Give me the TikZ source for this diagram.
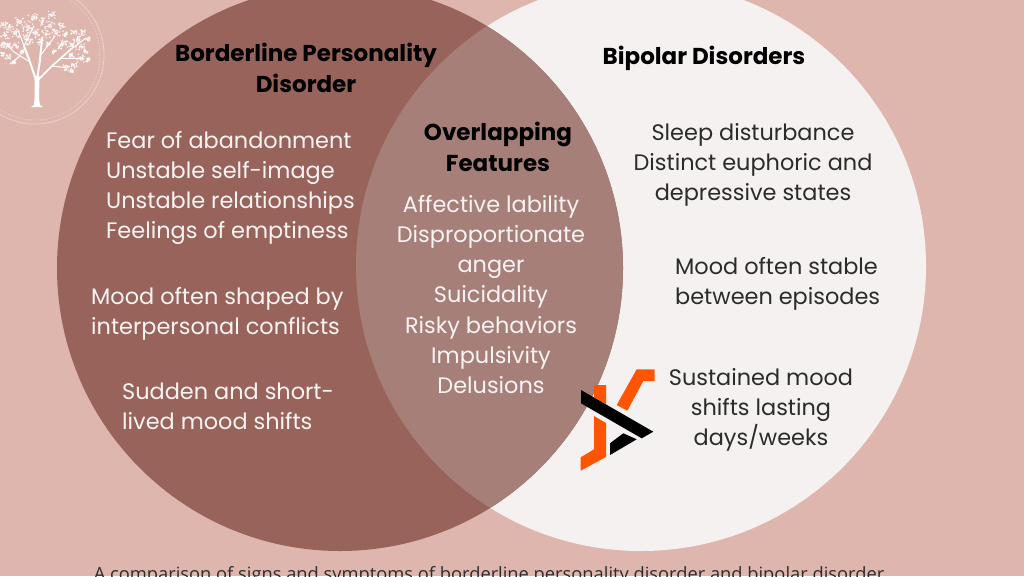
\documentclass[tikz,border=0pt]{standalone}
\usepackage{fontspec}
\setmainfont{Poppins}
\newfontfamily\capfont{Open Sans}
\definecolor{bgc}{HTML}{DFB6AE}
\definecolor{leftc}{HTML}{98635B}
\definecolor{rightc}{HTML}{F5F1F0}
\definecolor{midc}{HTML}{A67F79}
\definecolor{ringc}{HTML}{EBD0CB}
\definecolor{orangec}{HTML}{FF5500}
\definecolor{inkc}{HTML}{2B2B2B}
\tikzset{
  head/.style={font=\fontsize{23}{31}\selectfont\bfseries,align=center,text=black,inner sep=0pt},
  ltext/.style={font=\fontsize{22.4}{30.2}\selectfont,align=left,text=white!93!leftc,inner sep=0pt,anchor=north west},
  mtext/.style={font=\fontsize{22.4}{30.2}\selectfont,align=center,text=white!93!leftc,inner sep=0pt,anchor=north},
  rtext/.style={font=\fontsize{22.4}{30.2}\selectfont,align=left,text=inkc,inner sep=0pt,anchor=north west},
  rctext/.style={font=\fontsize{22.4}{30.2}\selectfont,align=center,text=inkc,inner sep=0pt,anchor=north},
  branch/.style={draw=white,line cap=round,line join=round},
}
\begin{document}
\begin{tikzpicture}[x=1pt,y=-1pt]
\useasboundingbox (0,0) rectangle (1024,576);
\begin{scope}
\clip (0,0) rectangle (1024,576);
\fill[bgc] (0,0) rectangle (1024,576);
% rings and tree
\draw[ringc,line width=0.8pt] (35,55) circle[radius=69];
\draw[ringc,line width=1pt,dash pattern=on 1pt off 2pt] (35,55) circle[radius=65];
\fill[white] (34.5,76) -- (39.5,76) -- (39,98) -- (40,105) -- (43,107) -- (31,107) -- (34,105) -- (34.5,98) -- cycle;
\draw[branch,line width=2pt] (36,80) -- (30,62) -- (24,46);
\draw[branch,line width=2pt] (37,80) -- (40,60) -- (42,38);
\draw[branch,line width=1.6pt] (38,80) -- (52,66) -- (70,50);
\draw[branch,line width=1pt] (30,62) -- (14,52) -- (4,42);
\draw[branch,line width=1pt] (24,46) -- (18,30);
\draw[branch,line width=1pt] (24,46) -- (34,26);
\draw[branch,line width=1pt] (40,56) -- (55,36);
\draw[branch,line width=1pt] (52,66) -- (68,68);
\draw[branch,line width=1pt] (60,58) -- (84,58);
\draw[branch,line width=1pt] (70,50) -- (86,38);
\draw[branch,line width=1pt] (20,56) -- (10,64);
\pgfmathsetseed{4711}
\foreach \p/\q/\r in {52/15/3.5,33/18/5,20/22/5,10/27/4,3/25/3,42/22/4,62/26/3,50/26/5,28/27/5,15/33/5,5/35/4,2/45/3,9/45/4,16/45/3,26/36/4,36/33/5,46/34/4,56/33/4,66/34/3,74/32/3,82/33/3,88/39/2,78/40/5,72/45/5,82/47/3,64/42/3,86/52/2,88/60/2,80/58/4,72/56/3,74/65/3,66/68/3,72/71/2,3/54/2,8/57/3,14/62/2,54/52/2,60/46/3,30/42/3,40/42/3,22/52/2,48/44/2}{
  \foreach \k in {1,...,14}{
    \pgfmathsetmacro{\dx}{\p+\r*rand}
    \pgfmathsetmacro{\dy}{\q+\r*rand}
    \fill[white,opacity=.8] (\dx,\dy) circle[radius=0.9];
  }
  \fill[white,opacity=.7] (\p,\q) circle[radius=\r*0.45];
}
% circles
\fill[rightc] (641,266) circle[radius=285];
\fill[leftc] (340,268) circle[radius=283];
\begin{scope}
\clip (641,266) circle[radius=285];
\fill[midc] (340,268) circle[radius=283];
\end{scope}
% logo
\fill[orangec] (636.7,369.3) -- (654.7,369.3) -- (654.7,381) -- (643.3,381) -- (627.3,410.7) -- (616.7,405) -- cycle;
\fill[orangec] (594,385) -- (606,385) -- (606,404.3) -- (594,397.3) -- cycle;
\fill[orangec] (594,416) -- (606,423) -- (606,457) -- (580.7,470.7) -- (580.7,457.3) -- (594,449.3) -- cycle;
\fill[black] (581,390) -- (653.3,431.7) -- (641.7,438.3) -- (581,403.3) -- cycle;
\fill[black] (610,443.3) -- (623.3,433.3) -- (636.7,439.3) -- (610,455) -- cycle;
\end{scope}
% headings
\node[head] (h1) at (306,68) {Borderline Personality\\Disorder};
\node[head] (h2) at (704,58) {Bipolar Disorders};
\node[head] (h3) at (498,147) {Overlapping\\Features};
% left
\node[ltext] (l1) at (106,131) {Fear of abandonment\\Unstable self-image\\Unstable relationships\\Feelings of emptiness};
\node[ltext] (l2) at (91,287) {Mood often shaped by\\interpersonal conflicts};
\node[ltext] (l3) at (122,383) {Sudden and short-\\lived mood shifts};
% middle
\node[mtext] (m1) at (491,195) {Affective lability\\Disproportionate\\anger\\Suicidality\\Risky behaviors\\Impulsivity\\Delusions};
% right
\node[rctext] (r1) at (753,123) {Sleep disturbance\\Distinct euphoric and\\depressive states};
\node[rtext] (r2) at (675,257) {Mood often stable\\between episodes};
\node[rctext] (r3) at (761,368) {Sustained mood\\shifts lasting\\days/weeks};
% caption
\begin{scope}
\clip (0,0) rectangle (1024,576);
\node[font=\capfont\fontsize{18.3}{20}\selectfont,text=inkc,inner sep=0pt] (cap) at (489,576) {A comparison of signs and symptoms of borderline personality disorder and bipolar disorder};
\end{scope}
\end{tikzpicture}
\end{document}
